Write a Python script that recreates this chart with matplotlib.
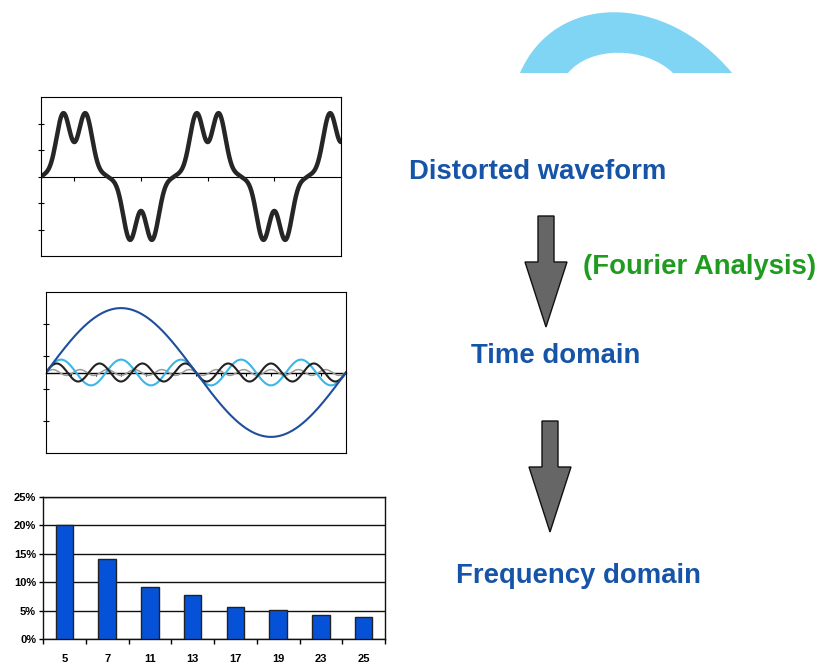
import numpy as np
import matplotlib.pyplot as plt
from matplotlib.path import Path
from matplotlib.patches import PathPatch, Polygon

plt.rcParams['font.family'] = ['Liberation Sans', 'DejaVu Sans']

W, H = 822, 666

# distorted waveform: harmonic orders and amplitudes
dist_orders = [1, 5, 7]
dist_amps = [2.03, -0.55, 0.18]

# time-domain components (middle panel)
comp_orders = [1, 5, 7, 11]
comp_amps = [2.0, 0.4, 0.28, 0.09]
comp_colors = ['#1f4e9c', '#3bb6e8', '#222222', '#9a9a9a']
comp_widths = [1.5, 1.5, 1.5, 1.1]

# frequency-domain spectrum (bottom panel)
harmonics = ['5', '7', '11', '13', '17', '19', '23', '25']
magnitude = [0.200, 0.141, 0.092, 0.077, 0.057, 0.051, 0.043, 0.039]

# labels on the right
labels = ['Distorted waveform', '(Fourier Analysis)', 'Time domain', 'Frequency domain']
label_colors = ['#1654a8', '#1f9c1f', '#1654a8', '#1654a8']
label_pos = [(538, 172), (700, 267), (556, 356), (578, 576)]

# arrows: centre x, top, head start, tip, shaft half width, head half width
arrows = [(546, 216, 262, 327, 8, 21), (550, 421, 467, 532, 8, 21)]

# decorative arch: outer and inner cubic curves (start, control, control, end)
arch_outer = [(520, 73), (555, -8), (665, -8), (732, 73)]
arch_inner = [(673, 73), (645, 46), (590, 46), (568, 73)]


def box(x0, y0, x1, y1):
    return [x0 / W, 1 - y1 / H, (x1 - x0) / W, (y1 - y0) / H]


def wave(theta_deg, orders, amps):
    th = np.deg2rad(theta_deg)
    return sum(a * np.sin(n * th) for n, a in zip(orders, amps))


fig = plt.figure(figsize=(W / 100, H / 100), dpi=100)

# overlay for texts, arrows and the arch
ov = fig.add_axes([0, 0, 1, 1])
ov.set_xlim(0, W)
ov.set_ylim(H, 0)
ov.axis('off')

verts = arch_outer + arch_inner + [arch_outer[0]]
codes = [Path.MOVETO, Path.CURVE4, Path.CURVE4, Path.CURVE4,
         Path.LINETO, Path.CURVE4, Path.CURVE4, Path.CURVE4, Path.CLOSEPOLY]
ov.add_patch(PathPatch(Path(verts, codes), facecolor='#80d4f4', edgecolor='none'))

for cx, top, hy, tip, sw, hw in arrows:
    pts = [(cx - sw, top), (cx + sw, top), (cx + sw, hy), (cx + hw, hy),
           (cx, tip), (cx - hw, hy), (cx - sw, hy)]
    ov.add_patch(Polygon(pts, closed=True, facecolor='#666666',
                         edgecolor='#111111', lw=1))

for txt, col, (x, y) in zip(labels, label_colors, label_pos):
    ov.text(x, y, txt, color=col, fontsize=19.8, fontweight='bold',
            ha='center', va='center')

# top panel: distorted waveform
ax1 = fig.add_axes(box(41, 97, 341, 256))
t1 = np.linspace(0, 810, 1500)
ax1.plot(t1, wave(t1, dist_orders, dist_amps), color='#262626', lw=3.2,
         solid_capstyle='round')
ax1.set_xlim(0, 810)
ax1.set_ylim(-3, 3)
ax1.set_xticks([])
ax1.set_yticks([-2, -1, 0, 1, 2])
ax1.set_yticklabels([])
ax1.tick_params(axis='y', direction='inout', length=4, width=0.8)
sec1 = ax1.secondary_xaxis(0.5)
sec1.set_alignment('bottom')
sec1.set_xticks([90, 270, 450, 630])
sec1.set_xticklabels([])
sec1.tick_params(direction='out', length=3, width=0.8)
sec1.spines['bottom'].set_linewidth(0.8)
for s in ax1.spines.values():
    s.set_linewidth(0.8)

# middle panel: harmonic components
ax2 = fig.add_axes(box(46, 292, 346, 453))
t2 = np.linspace(0, 360, 1500)
for i in [3, 1, 2, 0]:
    ax2.plot(t2, wave(t2, [comp_orders[i]], [comp_amps[i]]),
             color=comp_colors[i], lw=comp_widths[i])
ax2.set_xlim(0, 360)
ax2.set_ylim(-2.5, 2.5)
ax2.set_xticks([])
ax2.set_yticks([-1.5, -0.5, 0.5, 1.5])
ax2.set_yticklabels([])
ax2.tick_params(axis='y', direction='inout', length=4, width=0.8)
sec2 = ax2.secondary_xaxis(0.5)
sec2.set_alignment('bottom')
sec2.set_xticks(np.arange(30, 360, 30))
sec2.set_xticklabels([])
sec2.tick_params(direction='out', length=2.5, width=0.8)
sec2.spines['bottom'].set_linewidth(1.0)
for s in ax2.spines.values():
    s.set_linewidth(0.8)

# bottom panel: harmonic spectrum
ax3 = fig.add_axes(box(43, 497, 385, 639))
x = np.arange(len(harmonics))
ax3.bar(x, magnitude, width=0.41, color='#0552d8', edgecolor='#222222',
        lw=1, zorder=3)
ax3.set_xlim(-0.5, len(harmonics) - 0.5)
ax3.set_ylim(0, 0.25)
yt = np.arange(0, 0.26, 0.05)
ax3.set_yticks(yt)
ax3.set_yticklabels([f'{v * 100:.0f}%' for v in yt], fontsize=8,
                    fontweight='bold')
ax3.yaxis.grid(True, color='#111111', lw=1)
ax3.set_xticks(x)
ax3.set_xticklabels(harmonics, fontsize=8, fontweight='bold')
ax3.set_xticks(np.arange(-0.5, len(harmonics)), minor=True)
ax3.tick_params(axis='x', which='major', length=0, pad=11)
ax3.tick_params(axis='x', which='minor', direction='out', length=3.5, width=1)
ax3.tick_params(axis='y', direction='out', length=3, width=1, pad=2)
for s in ax3.spines.values():
    s.set_linewidth(1)
    s.set_color('#111111')

fig.savefig('out.png', dpi=100)
